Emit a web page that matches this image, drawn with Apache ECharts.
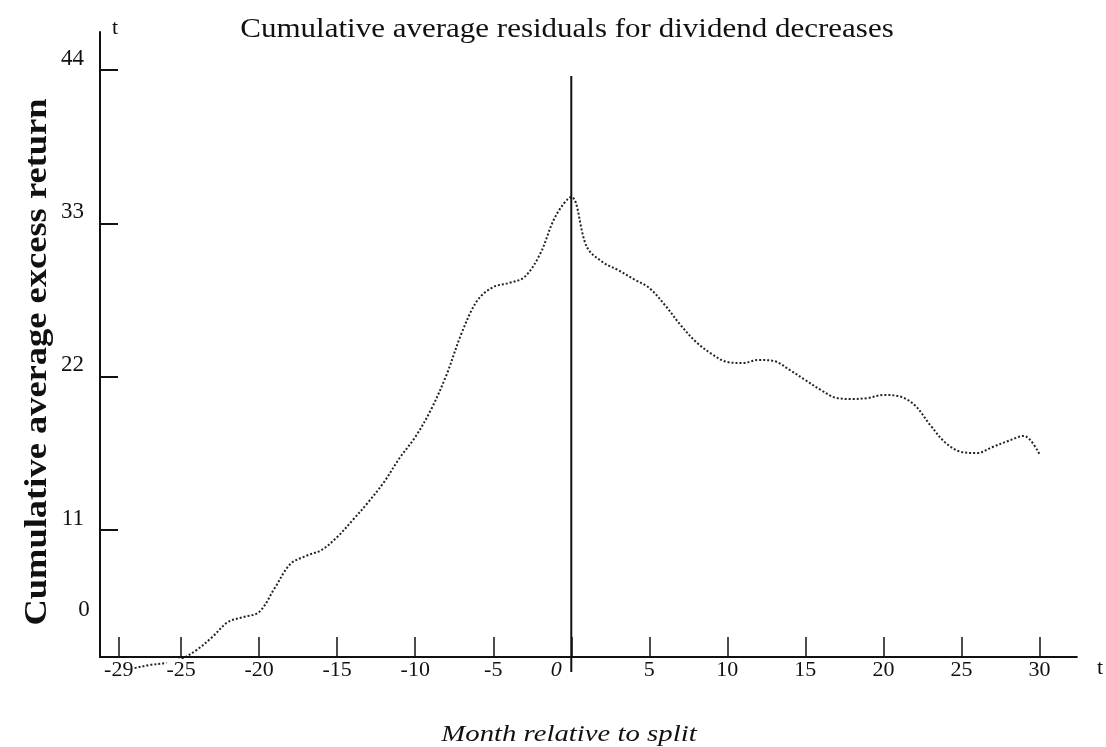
<!DOCTYPE html>
<html>
<head>
<meta charset="utf-8">
<script src="https://cdn.jsdelivr.net/npm/echarts@6/dist/echarts.min.js"></script>
<style>
html, body { margin: 0; background: #fff; }
#chart { width: 1106px; height: 747px; }
</style>
</head>
<body>
<div id="chart"></div>
<script>
// months relative to the event
let months = [-29, -28, -27, -26, -25, -24, -23, -22, -21, -20,
              -19, -18, -17, -16, -15, -14, -13, -12, -11, -10,
              -9, -8, -7, -6, -5, -4, -3, -2, -1, 0,
              1, 2, 3, 4, 5, 6, 7, 8, 9, 10,
              11, 12, 13, 14, 15, 16, 17, 18, 19, 20,
              21, 22, 23, 24, 25, 26, 27, 28, 29, 30];
// cumulative average residuals
let car = [0.96, 1.1, 1.32, 1.46, 1.75, 2.4, 3.33, 4.4, 4.76, 5.12,
           6.84, 8.56, 9.14, 9.57, 10.5, 11.72, 13.01, 14.44, 16.17, 17.67,
           19.61, 22.12, 25.2, 27.5, 28.43, 28.72, 29.15, 30.8, 33.53, 34.89,
           31.3, 30.23, 29.65, 29.0, 28.36, 27.14, 25.71, 24.49, 23.63, 23.05,
           22.98, 23.2, 23.12, 22.48, 21.76, 21.04, 20.47, 20.4, 20.47, 20.69,
           20.6, 19.97, 18.53, 17.24, 16.6, 16.52, 16.96, 17.39, 17.75, 16.45];
let xTicks = [-29, -25, -20, -15, -10, -5, 0, 5, 10, 15, 20, 25, 30];
let yTicks = [11, 22, 33, 44];
// vertical line at month 0 (bottom and top ends)
let eventLine = [[0, 0.81], [0, 43.57]];

const serif = 'Liberation Serif';
let chart = echarts.init(document.getElementById('chart'));

let option = {
    backgroundColor: '#fff',
    animation: false,
    grid: {
        left: 100,
        right: 29,
        top: 32,
        bottom: 90
    },
    xAxis: {
        type: 'value',
        min: -30.2,
        max: 32.4,
        z: 5,
        name: 't',
        nameLocation: 'end',
        nameGap: 20,
        nameTextStyle: { fontFamily: serif, fontSize: 22, color: '#111', verticalAlign: 'top' },
        splitLine: { show: false },
        axisLine: { onZero: false, lineStyle: { color: '#111', width: 2 } },
        axisTick: {
            customValues: xTicks,
            inside: true,
            length: 20,
            lineStyle: { color: '#111', width: 1.5 }
        },
        axisLabel: {
            customValues: xTicks,
            margin: 2,
            fontFamily: serif,
            fontSize: 22,
            color: '#111',
            backgroundColor: '#fff',
            // the "0" sits just left of the event line in the original
            formatter: v => v === 0 ? '{zero|0}' : String(v),
            rich: {
                zero: { fontFamily: serif, fontSize: 22, fontStyle: 'italic', color: '#111', padding: [0, 30, 0, 0] }
            }
        }
    },
    yAxis: {
        type: 'value',
        min: 1.89,
        max: 46.73,
        name: 't',
        nameLocation: 'end',
        nameGap: -7,
        nameTextStyle: { fontFamily: serif, fontSize: 22, color: '#111', align: 'left', padding: [0, 0, 0, 12] },
        splitLine: { show: false },
        axisLine: { onZero: false, lineStyle: { color: '#111', width: 2 } },
        axisTick: {
            customValues: yTicks,
            inside: true,
            length: 18,
            lineStyle: { color: '#111', width: 2 }
        },
        axisLabel: {
            customValues: yTicks,
            margin: 16,
            verticalAlign: 'bottom',
            fontFamily: serif,
            fontSize: 23,
            color: '#111'
        }
    },
    graphic: [
        {
            type: 'text',
            x: 567,
            y: 30,
            scaleX: 1.17,
            style: {
                text: 'Cumulative average residuals for dividend decreases',
                align: 'center', verticalAlign: 'middle',
                textAlign: 'center', textVerticalAlign: 'middle',
                font: '26.5px "Liberation Serif"',
                fill: '#111'
            }
        },
        {
            type: 'text',
            x: 569,
            y: 735,
            scaleX: 1.25,
            style: {
                text: 'Month relative to split',
                align: 'center', verticalAlign: 'middle',
                textAlign: 'center', textVerticalAlign: 'middle',
                font: 'italic 23px "Liberation Serif"',
                fill: '#111'
            }
        },
        {
            type: 'text',
            x: 38,
            y: 362,
            rotation: Math.PI / 2,
            scaleX: 1.14,
            style: {
                text: 'Cumulative average excess return',
                align: 'center', verticalAlign: 'middle',
                textAlign: 'center', textVerticalAlign: 'middle',
                font: 'bold 32px "Liberation Serif"',
                fill: '#111'
            }
        },
        {
            type: 'text',
            x: 84,
            y: 610,
            style: {
                text: '0',
                align: 'center', verticalAlign: 'middle',
                textAlign: 'center', textVerticalAlign: 'middle',
                font: '23px "Liberation Serif"',
                fill: '#111'
            }
        }
    ],
    series: [
        {
            type: 'line',
            data: months.map((m, i) => [m, car[i]]),
            smooth: 0.35,
            clip: false,
            showSymbol: false,
            lineStyle: { color: '#222', width: 2, type: [2, 2] }
        },
        {
            type: 'line',
            data: eventLine,
            z: 6,
            clip: false,
            showSymbol: false,
            silent: true,
            lineStyle: { color: '#111', width: 2 }
        }
    ]
};
chart.setOption(option);
</script>
</body>
</html>
